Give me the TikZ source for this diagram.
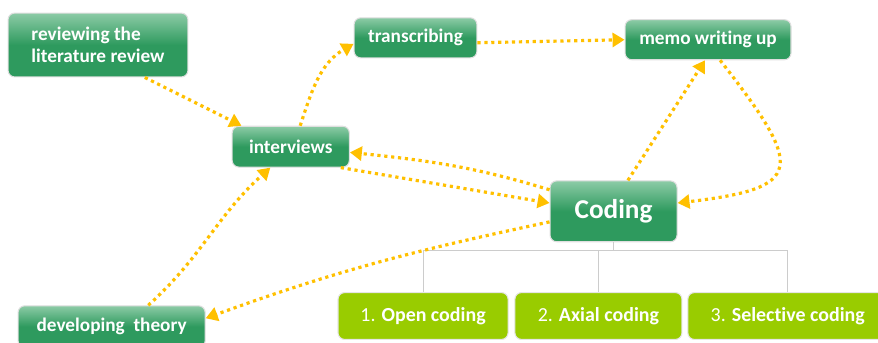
\documentclass[tikz,border=0pt]{standalone}
\usepackage{fontspec}
\setmainfont{Carlito}[Ligatures=NoCommon]
\usetikzlibrary{shapes,arrows.meta}
\definecolor{leaf}{HTML}{2E9A5E}
\definecolor{leaftop}{HTML}{8CCBA6}
\definecolor{lime}{HTML}{99CC00}
\definecolor{gold}{HTML}{FFC000}
\tikzstyle{stage} = [rectangle,rounded corners=5pt,draw=gray!25,line width=0.8pt,top color=leaftop,bottom color=leaf,middle color=leaf,text=white,font=\bfseries\fontsize{14.5}{17}\selectfont,text centered]
\tikzstyle{sub} = [rectangle,rounded corners=5pt,draw=gray!20,line width=0.8pt,fill=lime,text=white,font=\fontsize{15}{17.5}\selectfont,text centered,minimum height=1.24cm]
\tikzstyle{flow} = [gold,line width=2.4pt,dash pattern=on 2.4pt off 2.8pt,-{Triangle[length=9pt,width=10.5pt]}]
\tikzstyle{tree} = [gray!40,line width=0.8pt]

\begin{document}
\begin{tikzpicture}
    	\useasboundingbox (0,0) rectangle (23.23,-9.075);

    	\node[stage,align=left,minimum width=4.76cm,minimum height=1.69cm] (review) at (2.593,-1.191) {reviewing the\\literature review};
    	\node[stage,minimum width=3.10cm,minimum height=1.08cm,below of=review,xshift=5.1cm,yshift=-1.69cm] (interviews) {interviews};
    	\node[stage,minimum width=3.25cm,minimum height=1.06cm,right of=interviews,xshift=2.3cm,yshift=2.88cm] (transcribing) {transcribing};
    	\node[stage,minimum width=4.39cm,minimum height=1.06cm,right of=transcribing,xshift=6.74cm,yshift=-0.05cm] (memo) {memo writing up};
    	\node[stage,font=\bfseries\fontsize{20.5}{24}\selectfont,minimum width=3.36cm,minimum height=1.61cm,below of=memo,xshift=-2.5cm,yshift=-3.54cm] (coding) {Coding};
    	\node[stage,minimum width=4.95cm,minimum height=1.1cm,below of=interviews,xshift=-4.74cm,yshift=-3.76cm] (theory) {developing\ \ theory};
    	\node[sub,minimum width=4.42cm,below of=coding,xshift=-0.4cm,yshift=-1.77cm] (axial) {2. \textbf{Axial coding}};
    	\node[sub,minimum width=4.50cm,left of=axial,xshift=-3.64cm] (open) {1. \textbf{Open coding}};
    	\node[sub,minimum width=5.29cm,right of=axial,xshift=4.01cm] (selective) {3. \textbf{Selective coding}};

    	\draw[tree] (coding.south) -- ++(0,-0.22) coordinate (fork);
    	\draw[tree] (fork) -| (open.north);
    	\draw[tree] (fork) -| (axial.north);
    	\draw[tree] (fork) -| (selective.north);

    	\draw[flow] ([xshift=1.24cm]review.south) -- ([xshift=0.26cm]interviews.north west);
    	\draw[flow] ([xshift=0.25cm]interviews.north) to[out=72,in=210] ([yshift=-0.16cm]transcribing.west);
    	\draw[flow] ([yshift=-0.13cm]transcribing.east) -- (memo.west);
    	\draw[flow] ([xshift=0.38cm]coding.north) -- ([xshift=-0.08cm]memo.south);
    	\draw[flow] ([xshift=0.32cm]memo.south) .. controls +(2.25,-2.88) and +(3.36,0.40) .. ([yshift=0.22cm]coding.east);
    	\draw[flow] ([yshift=0.57cm]coding.west) to[out=163,in=-6] ([yshift=-0.15cm]interviews.east);
    	\draw[flow] ([xshift=-0.24cm]interviews.south east) -- ([yshift=0.22cm]coding.west);
    	\draw[flow] ([yshift=-0.28cm]coding.west) to[out=192,in=20] ([yshift=0.22cm]theory.east);
    	\draw[flow] ([xshift=0.97cm]theory.north) to[out=42,in=-138] ([xshift=-0.54cm]interviews.south);

\end{tikzpicture}
\end{document}
